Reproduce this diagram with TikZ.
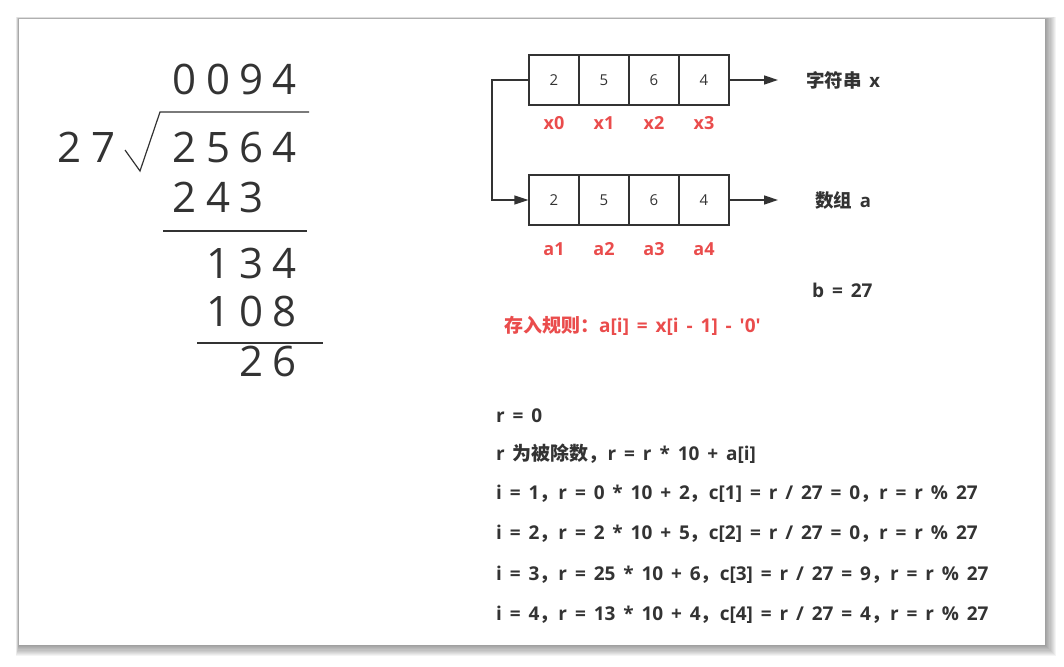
\documentclass[tikz,border=0pt]{standalone}
\usepackage{fontspec}
\setmainfont{Open Sans}[Ligatures=TeXOff]
\newfontfamily\widefont{Open Sans}[Ligatures=TeXOff, WordSpace=1.6]
\newfontfamily\cjk{Noto Sans CJK SC}
\usetikzlibrary{arrows.meta}
\definecolor{ink}{RGB}{51,51,51}
\definecolor{redtxt}{RGB}{234,76,76}
\newcommand{\dg}[1]{\makebox[33.3pt][c]{#1}}
\begin{document}
\begin{tikzpicture}[x=1pt,y=-1pt,
  digits/.style={inner sep=0pt, anchor=base west, font=\fontsize{42}{42}\selectfont, text=ink},
  cell/.style={draw=ink, line width=1.3pt, minimum width=50pt, minimum height=50pt, inner sep=0pt, font=\fontsize{15}{15}\selectfont, text=ink},
  idx/.style={inner sep=0pt, anchor=base, font=\bfseries\fontsize{18}{18}\selectfont, text=redtxt},
  boldtxt/.style={inner sep=0pt, anchor=base west, font=\widefont\bfseries\fontsize{19}{19}\selectfont, text=ink},
  arrlbl/.style={inner sep=0pt, anchor=base west, font=\bfseries\fontsize{18.5}{18.5}\selectfont, text=ink},
  conn/.style={draw=ink, line width=1.4pt, -{Triangle[length=14pt,width=9pt]}},
  rule/.style={draw=ink, line width=1.2pt}]
\useasboundingbox (0,0) rectangle (1064,666);
\fill[white] (0,0) rectangle (1064,666);
% card shadow
\foreach \k in {1,...,10}{
  \fill[black, opacity=0.045] (19-0.3*\k,19-0.2*\k) rectangle (1045+1.1*\k,645+1.1*\k);
}
\fill[white] (19,19) rectangle (1045,645);

% long division
\node[digits] (q) at (168,95) {\dg{0}\dg{0}\dg{9}\dg{4}};
\node[digits] (dv) at (53,162) {\dg{2}\dg{7}};
\node[digits] (dd) at (168,162) {\dg{2}\dg{5}\dg{6}\dg{4}};
\node[digits] (s1) at (168,212) {\dg{2}\dg{4}\dg{3}};
\node[digits] (r1) at (201.3,278) {\dg{1}\dg{3}\dg{4}};
\node[digits] (s2) at (201.3,326) {\dg{1}\dg{0}\dg{8}};
\node[digits] (r2) at (234.6,376) {\dg{2}\dg{6}};
\coordinate (rA) at (125,150);
\coordinate (rB) at (140,171);
\coordinate (rC) at (160,112);
\coordinate (rD) at (309,112);
\draw[rule, line join=miter] (rA) -- (rB) -- (rC) -- (rD);
\coordinate (l1a) at (163,231); \coordinate (l1b) at (307,231);
\draw[rule] (l1a) -- (l1b);
\coordinate (l2a) at (197,343); \coordinate (l2b) at (323,343);
\draw[rule] (l2a) -- (l2b);

% arrays
\node[cell] (x0) at (554,80) {2};
\node[cell] (x1) at (604,80) {5};
\node[cell] (x2) at (654,80) {6};
\node[cell] (x3) at (704,80) {4};
\node[cell] (a1) at (554,200) {2};
\node[cell] (a2) at (604,200) {5};
\node[cell] (a3) at (654,200) {6};
\node[cell] (a4) at (704,200) {4};

\node[idx] (lx0) at (554,129) {x0};
\node[idx] (lx1) at (604,129) {x1};
\node[idx] (lx2) at (654,129) {x2};
\node[idx] (lx3) at (704,129) {x3};
\node[idx] (la1) at (554,255) {a1};
\node[idx] (la2) at (604,255) {a2};
\node[idx] (la3) at (654,255) {a3};
\node[idx] (la4) at (704,255) {a4};

\coordinate (xe) at (778,80);
\coordinate (ae) at (778,200);
\draw[conn] (x3.east) -- (xe);
\draw[conn] (a4.east) -- (ae);
\coordinate (bend1) at (492,80);
\coordinate (bend2) at (492,200);
\draw[conn, line join=miter] (x0.west) -- (bend1) -- (bend2) -- (a1.west);

\node[arrlbl] (sx) at (806,88) {{\cjk\bfseries 字符串} x};
\node[arrlbl] (sa) at (815,207) {{\cjk\bfseries 数组} a};
\node[boldtxt] (b) at (812,297) {b = 27};
\node[boldtxt, text=redtxt] (rl) at (504,332) {{\cjk\bfseries 存入规则：}a[i] = x[i - 1] - '0'};

\node[boldtxt] (t1) at (496,422) {r = 0};
\node[boldtxt] (t2) at (496,460) {r {\cjk\bfseries 为被除数，}r = r * 10 + a[i]};
\node[boldtxt] (t3) at (496,499) {i = 1{\cjk\bfseries ，}r = 0 * 10 + 2{\cjk\bfseries ，}c[1] = r / 27 = 0{\cjk\bfseries ，}r = r \% 27};
\node[boldtxt] (t4) at (496,539) {i = 2{\cjk\bfseries ，}r = 2 * 10 + 5{\cjk\bfseries ，}c[2] = r / 27 = 0{\cjk\bfseries ，}r = r \% 27};
\node[boldtxt] (t5) at (496,580) {i = 3{\cjk\bfseries ，}r = 25 * 10 + 6{\cjk\bfseries ，}c[3] = r / 27 = 9{\cjk\bfseries ，}r = r \% 27};
\node[boldtxt] (t6) at (496,620) {i = 4{\cjk\bfseries ，}r = 13 * 10 + 4{\cjk\bfseries ，}c[4] = r / 27 = 4{\cjk\bfseries ，}r = r \% 27};
\end{tikzpicture}
\end{document}
